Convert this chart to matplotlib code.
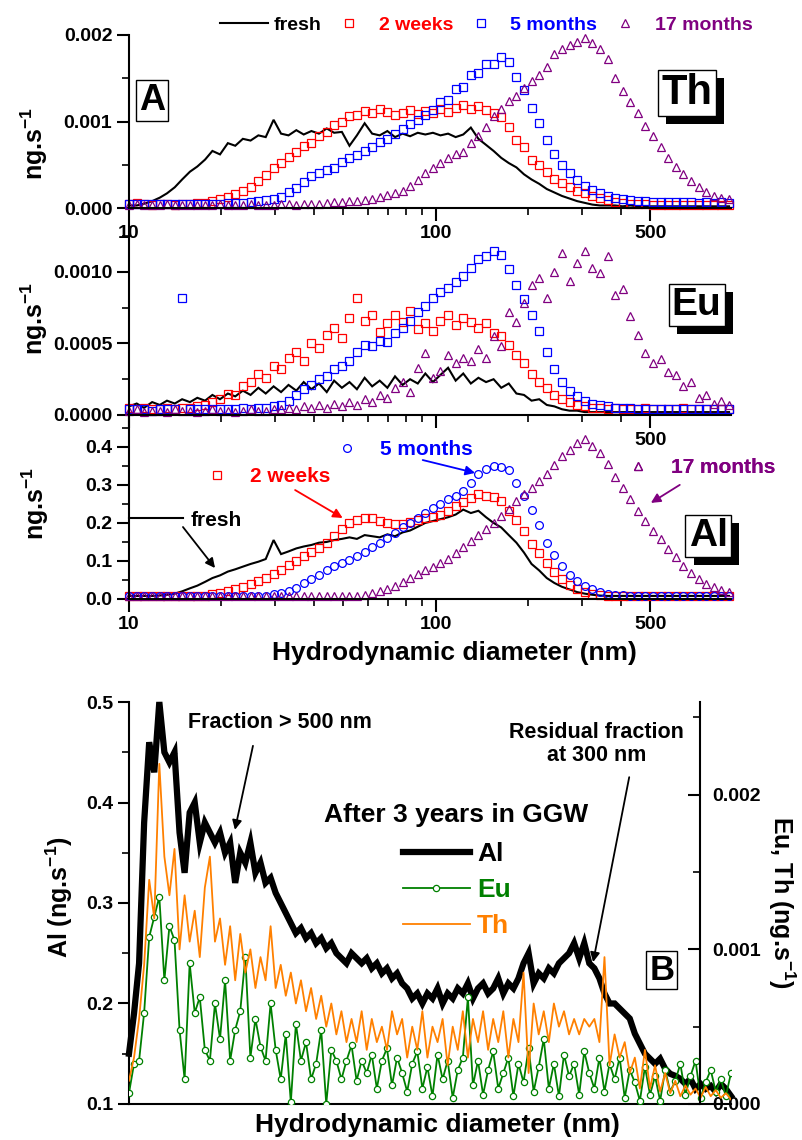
import matplotlib
matplotlib.use('Agg')
import matplotlib.pyplot as plt
from matplotlib import patheffects
from matplotlib.ticker import FixedLocator, MultipleLocator, FormatStrFormatter, FixedFormatter, NullFormatter
import numpy as np

plt.rcParams['font.family'] = ['Liberation Sans', 'DejaVu Sans']
plt.rcParams['font.weight'] = 'bold'
plt.rcParams['axes.labelweight'] = 'bold'
plt.rcParams['mathtext.fontset'] = 'custom'
plt.rcParams['mathtext.rm'] = 'Liberation Sans'
plt.rcParams['mathtext.bf'] = 'Liberation Sans:bold'
plt.rcParams['axes.linewidth'] = 1.5

# hydrodynamic diameter of each fraction (nm)
diam = [10.0, 10.6, 11.2, 11.9, 12.6, 13.3, 14.1, 14.9, 15.8, 16.7,
        17.7, 18.7, 19.8, 21.0, 22.2, 23.5, 24.9, 26.4, 27.9, 29.6,
        31.3, 33.1, 35.1, 37.1, 39.3, 41.6, 44.1, 46.6, 49.4, 52.3,
        55.3, 58.6, 62.0, 65.6, 69.5, 73.6, 77.9, 82.4, 87.3, 92.4,
        97.8, 103.5, 109.6, 116.0, 122.8, 130.0, 137.6, 145.7, 154.2, 163.3,
        172.8, 183.0, 193.7, 205.0, 217.1, 229.8, 243.3, 257.5, 272.6, 288.6,
        305.5, 323.4, 342.4, 362.5, 383.7, 406.2, 430.0, 455.2, 481.9, 510.2,
        540.1, 571.8, 605.3, 640.8, 678.3, 718.1, 760.2, 804.8, 851.9, 901.9]

ages = ['fresh', '2 weeks', '5 months', '17 months']

# Th signal, 1e-4 ng/s
th_fresh = [0.3, 0.3, 0.5, 0.8, 1.2, 1.7, 2.4, 3.3, 4.2, 4.8,
            5.6, 6.6, 6.2, 7.5, 7.2, 8.0, 7.8, 8.4, 8.2, 10.2,
            8.6, 8.4, 9.0, 8.5, 8.9, 8.6, 9.2, 8.7, 8.8, 7.2,
            8.4, 9.8, 8.6, 8.4, 8.9, 8.2, 8.6, 8.3, 8.7, 8.5,
            8.7, 8.4, 8.6, 8.2, 8.5, 9.3, 8.0, 7.3, 6.6, 5.8,
            5.2, 4.7, 3.9, 3.3, 2.8, 2.2, 1.8, 1.4, 1.1, 0.8,
            0.6, 0.4, 0.3, 0.3, 0.3, 0.2, 0.3, 0.2, 0.2, 0.2,
            0.2, 0.2, 0.2, 0.2, 0.2, 0.2, 0.2, 0.2, 0.2, 0.2]
th_2w = [0.5, 0.6, 0.5, 0.4, 0.5, 0.5, 0.4, 0.5, 0.5, 0.6,
         0.6, 0.8, 1.0, 1.3, 1.6, 2.0, 2.4, 3.1, 3.8, 4.6,
         5.2, 5.9, 6.5, 7.2, 7.5, 8.3, 8.8, 9.6, 10.0, 10.6,
         10.8, 11.2, 11.0, 11.4, 11.1, 10.7, 11.0, 11.3, 10.9, 11.2,
         11.0, 11.4, 11.1, 11.6, 11.9, 11.5, 11.8, 11.3, 11.0, 10.5,
         9.4, 7.9, 7.0, 5.6, 5.0, 4.2, 3.3, 2.9, 2.4, 2.0,
         1.7, 1.4, 1.2, 0.9, 0.7, 0.6, 0.5, 0.5, 0.5, 0.4,
         0.4, 0.4, 0.4, 0.4, 0.4, 0.4, 0.3, 0.4, 0.3, 0.3]
th_5m = [0.5, 0.5, 0.5, 0.5, 0.5, 0.5, 0.5, 0.5, 0.5, 0.5,
         0.5, 0.5, 0.5, 0.6, 0.6, 0.6, 0.7, 0.8, 0.9, 1.1,
         1.3, 1.8, 2.3, 3.0, 3.7, 4.1, 4.4, 4.6, 5.3, 5.8,
         6.1, 6.6, 7.0, 7.6, 8.0, 8.6, 9.1, 9.7, 10.2, 10.8,
         11.3, 12.2, 12.5, 13.8, 14.0, 15.4, 15.6, 16.6, 16.7, 17.4,
         16.9, 15.2, 13.6, 11.6, 9.8, 7.9, 6.3, 5.0, 4.0, 3.2,
         2.6, 2.1, 1.7, 1.4, 1.2, 1.0, 0.9, 0.8, 0.8, 0.7,
         0.7, 0.7, 0.7, 0.7, 0.7, 0.6, 0.7, 0.6, 0.7, 0.6]
th_17m = [0.4, 0.5, 0.4, 0.4, 0.4, 0.5, 0.4, 0.4, 0.4, 0.4,
          0.4, 0.4, 0.5, 0.4, 0.4, 0.4, 0.5, 0.4, 0.4, 0.4,
          0.5, 0.5, 0.4, 0.5, 0.5, 0.5, 0.6, 0.7, 0.7, 0.8,
          0.8, 0.9, 1.1, 1.3, 1.5, 1.7, 2.0, 2.6, 3.2, 4.0,
          4.6, 5.2, 5.8, 6.2, 6.5, 7.5, 8.3, 9.4, 10.6, 11.4,
          12.4, 12.9, 13.9, 14.7, 15.4, 16.3, 17.8, 18.4, 18.8, 19.2,
          19.6, 19.1, 18.4, 17.2, 15.0, 13.5, 12.3, 11.0, 9.5, 8.3,
          7.0, 5.8, 4.7, 3.9, 3.1, 2.4, 1.8, 1.4, 1.2, 1.0]

# Eu signal, 1e-4 ng/s
eu_fresh = [0.6, 0.8, 0.5, 0.9, 0.7, 1.0, 0.8, 1.1, 0.9, 1.2,
            1.0, 1.4, 1.1, 1.5, 1.3, 1.7, 1.4, 1.9, 1.5, 2.0,
            1.6, 2.1, 1.7, 2.3, 1.8, 2.2, 1.6, 2.4, 1.9, 2.3,
            1.8, 2.6, 2.0, 2.4, 1.9, 2.7, 2.1, 2.5, 2.2, 2.9,
            2.3, 2.8, 3.3, 2.4, 2.9, 2.2, 2.6, 2.3, 2.5, 1.9,
            2.2, 1.5, 1.4, 1.0, 1.1, 0.7, 0.6, 0.4, 0.3, 0.3,
            0.2, 0.2, 0.2, 0.2, 0.2, 0.2, 0.2, 0.2, 0.2, 0.2,
            0.2, 0.2, 0.2, 0.2, 0.2, 0.2, 0.2, 0.2, 0.2, 0.2]
eu_2w = [0.5, 0.4, 0.5, 0.4, 0.4, 0.5, 0.4, 0.5, 0.5, 0.6,
         0.7, 0.9, 1.1, 1.5, 1.4, 2.0, 2.3, 2.9, 2.6, 3.4,
         3.2, 4.0, 4.4, 3.8, 5.0, 4.7, 5.6, 6.1, 5.4, 6.8,
         8.2, 6.6, 7.0, 5.8, 6.4, 7.0, 6.5, 7.3, 6.0, 6.4,
         5.9, 6.6, 7.0, 6.3, 6.8, 6.5, 6.1, 6.4, 5.7, 5.5,
         4.9, 4.2, 3.6, 2.9, 2.3, 1.9, 1.4, 1.1, 0.9, 0.7,
         0.6, 0.5, 0.5, 0.4, 0.5, 0.4, 0.4, 0.4, 0.5, 0.4,
         0.4, 0.4, 0.4, 0.5, 0.4, 0.4, 0.4, 0.4, 0.4, 0.4]
eu_5m = [0.4, 0.4, 0.4, 0.3, 0.4, 0.4, 0.4, 8.2, 0.4, 0.4,
         0.4, 0.4, 0.4, 0.4, 0.4, 0.5, 0.4, 0.5, 0.5, 0.6,
         0.7, 1.0, 1.4, 1.8, 2.1, 2.5, 2.7, 3.2, 3.4, 3.8,
         4.4, 4.9, 4.8, 5.2, 5.1, 5.7, 6.1, 6.6, 7.2, 7.6,
         8.2, 8.6, 8.9, 9.3, 9.7, 10.3, 10.9, 11.1, 11.5, 11.2,
         10.2, 9.1, 8.1, 7.0, 5.9, 4.4, 3.2, 2.3, 1.7, 1.3,
         1.0, 0.8, 0.7, 0.6, 0.5, 0.5, 0.5, 0.4, 0.4, 0.4,
         0.4, 0.4, 0.4, 0.4, 0.4, 0.4, 0.4, 0.4, 0.4, 0.4]
eu_17m = [0.3, 0.4, 0.2, 0.3, 0.3, 0.2, 0.4, 0.3, 0.3, 0.2,
          0.3, 0.4, 0.3, 0.3, 0.2, 0.3, 0.4, 0.3, 0.3, 0.4,
          0.4, 0.5, 0.4, 0.6, 0.5, 0.7, 0.5, 0.8, 0.6, 0.9,
          0.7, 1.1, 0.9, 1.4, 1.2, 1.9, 2.3, 1.6, 3.3, 4.3,
          2.6, 3.1, 4.2, 3.6, 4.0, 3.8, 4.6, 4.0, 5.5, 4.8,
          7.2, 6.5, 7.8, 9.1, 9.6, 8.2, 10.0, 11.3, 9.4, 10.6,
          11.5, 10.3, 9.9, 11.1, 8.4, 8.8, 6.9, 5.6, 4.3, 3.6,
          3.9, 3.0, 2.8, 2.0, 2.3, 1.2, 1.4, 0.8, 1.0, 0.7]

# Al signal, ng/s
al_fresh = [0.008, 0.008, 0.008, 0.008, 0.009, 0.011, 0.014, 0.020, 0.028, 0.035,
            0.045, 0.055, 0.062, 0.072, 0.078, 0.085, 0.092, 0.098, 0.105, 0.155,
            0.118, 0.125, 0.133, 0.138, 0.142, 0.148, 0.150, 0.155, 0.158, 0.162,
            0.158, 0.168, 0.165, 0.162, 0.170, 0.165, 0.175, 0.180, 0.190, 0.200,
            0.205, 0.210, 0.215, 0.222, 0.235, 0.226, 0.232, 0.215, 0.200, 0.188,
            0.168, 0.148, 0.122, 0.092, 0.075, 0.055, 0.042, 0.032, 0.025, 0.018,
            0.014, 0.011, 0.009, 0.008, 0.008, 0.008, 0.008, 0.008, 0.008, 0.008,
            0.008, 0.008, 0.008, 0.008, 0.008, 0.008, 0.008, 0.008, 0.008, 0.008]
al_2w = [0.008, 0.008, 0.008, 0.008, 0.008, 0.008, 0.008, 0.008, 0.008, 0.008,
         0.008, 0.012, 0.016, 0.021, 0.026, 0.032, 0.040, 0.048, 0.056, 0.066,
         0.077, 0.090, 0.100, 0.112, 0.124, 0.134, 0.148, 0.165, 0.185, 0.200,
         0.208, 0.212, 0.212, 0.206, 0.200, 0.196, 0.198, 0.203, 0.207, 0.212,
         0.216, 0.222, 0.232, 0.244, 0.256, 0.266, 0.275, 0.272, 0.268, 0.258,
         0.232, 0.208, 0.180, 0.145, 0.120, 0.095, 0.070, 0.052, 0.036, 0.026,
         0.019, 0.014, 0.011, 0.009, 0.009, 0.008, 0.008, 0.008, 0.008, 0.008,
         0.008, 0.008, 0.008, 0.008, 0.008, 0.008, 0.008, 0.008, 0.008, 0.008]
al_5m = [0.008, 0.008, 0.008, 0.008, 0.008, 0.008, 0.008, 0.008, 0.008, 0.008,
         0.008, 0.008, 0.008, 0.008, 0.008, 0.008, 0.008, 0.008, 0.009, 0.012,
         0.016, 0.022, 0.030, 0.042, 0.053, 0.063, 0.075, 0.086, 0.094, 0.102,
         0.112, 0.124, 0.136, 0.148, 0.160, 0.174, 0.188, 0.200, 0.212, 0.226,
         0.238, 0.250, 0.262, 0.272, 0.285, 0.304, 0.328, 0.342, 0.350, 0.348,
         0.338, 0.305, 0.272, 0.235, 0.195, 0.148, 0.115, 0.088, 0.064, 0.046,
         0.035, 0.025, 0.018, 0.014, 0.011, 0.010, 0.009, 0.009, 0.008, 0.008,
         0.008, 0.008, 0.008, 0.008, 0.008, 0.008, 0.008, 0.008, 0.008, 0.008]
al_17m = [0.008, 0.008, 0.008, 0.008, 0.008, 0.008, 0.008, 0.008, 0.008, 0.008,
          0.008, 0.008, 0.008, 0.008, 0.008, 0.008, 0.008, 0.008, 0.008, 0.008,
          0.008, 0.008, 0.008, 0.008, 0.008, 0.008, 0.008, 0.008, 0.008, 0.008,
          0.009, 0.011, 0.015, 0.020, 0.027, 0.035, 0.045, 0.055, 0.065, 0.075,
          0.084, 0.095, 0.106, 0.120, 0.136, 0.152, 0.168, 0.183, 0.200, 0.218,
          0.236, 0.258, 0.276, 0.292, 0.310, 0.330, 0.352, 0.376, 0.393, 0.410,
          0.420, 0.402, 0.384, 0.356, 0.320, 0.293, 0.262, 0.232, 0.205, 0.180,
          0.157, 0.132, 0.110, 0.088, 0.068, 0.052, 0.040, 0.032, 0.024, 0.018]

# after 3 years in GGW: Al in ng/s, Eu and Th in 1e-4 ng/s, per fraction
b_al = [0.15, 0.19, 0.24, 0.38, 0.46, 0.43, 0.50, 0.45, 0.44, 0.45,
        0.37, 0.33, 0.39, 0.40, 0.36, 0.38, 0.37, 0.36, 0.37, 0.35,
        0.36, 0.32, 0.35, 0.34, 0.36, 0.33, 0.34, 0.32, 0.325, 0.31,
        0.30, 0.29, 0.28, 0.27, 0.275, 0.265, 0.27, 0.26, 0.265, 0.255,
        0.26, 0.25, 0.245, 0.24, 0.25, 0.245, 0.24, 0.245, 0.235, 0.24,
        0.23, 0.235, 0.225, 0.23, 0.22, 0.215, 0.205, 0.21, 0.20, 0.21,
        0.205, 0.215, 0.20, 0.21, 0.205, 0.215, 0.21, 0.22, 0.205, 0.215,
        0.22, 0.21, 0.215, 0.225, 0.21, 0.22, 0.215, 0.225, 0.24, 0.25,
        0.22, 0.23, 0.225, 0.235, 0.23, 0.24, 0.245, 0.25, 0.26, 0.245,
        0.26, 0.24, 0.235, 0.225, 0.21, 0.20, 0.20, 0.195, 0.19, 0.185,
        0.17, 0.16, 0.15, 0.145, 0.14, 0.145, 0.135, 0.13, 0.128, 0.125,
        0.12, 0.125, 0.115, 0.12, 0.115, 0.118, 0.112, 0.12, 0.115, 0.108]
b_th = [1.5, 3.0, 5.5, 9.0, 14.5, 12.0, 22.0, 16.0, 13.5, 16.5,
        10.0, 13.5, 10.5, 12.5, 9.5, 14.0, 16.0, 10.5, 12.0, 9.0,
        11.5, 8.0, 11.0, 8.5, 10.0, 7.5, 9.5, 8.0, 11.5, 7.5,
        9.0, 7.0, 8.5, 6.5, 8.0, 6.0, 7.5, 5.5, 7.0, 5.0,
        6.5, 4.5, 6.0, 4.0, 5.5, 4.0, 6.0, 3.5, 5.5, 4.0,
        5.0, 3.5, 6.0, 4.5, 5.5, 3.0, 5.0, 3.5, 6.0, 3.0,
        5.0, 4.0, 5.5, 2.5, 5.0, 3.5, 6.0, 3.0, 5.5, 4.0,
        6.0, 3.5, 5.5, 4.0, 6.0, 3.0, 5.5, 4.0, 8.5, 2.0,
        6.5, 4.5, 6.0, 4.0, 6.5, 5.0, 6.0, 4.5, 5.5, 4.5,
        5.5, 5.0, 5.5, 4.0, 9.5, 2.5, 4.5, 3.0, 4.0, 2.0,
        3.0, 1.0, 3.5, 1.0, 2.5, 0.8, 2.0, 0.7, 1.5, 0.5,
        1.2, 0.6, 1.0, 0.4, 1.1, 0.5, 0.9, 0.4, 0.7, 0.3]
b_eu = [0.7, 2.6, 2.8, 5.9, 10.8, 12.1, 13.4, 8.0, 11.5, 10.6,
        4.8, 1.6, 9.1, 5.9, 6.9, 3.5, 2.8, 6.5, 4.2, 8.0,
        2.8, 4.8, 6.0, 9.5, 3.0, 5.5, 3.7, 2.8, 6.5, 3.5,
        1.6, 4.5, 0.1, 5.2, 2.8, 4.0, 1.6, 2.6, 4.8, 0.0,
        3.5, 2.8, 1.6, 2.8, 3.8, 1.5, 2.8, 2.0, 3.2, 1.0,
        2.8, 3.6, 1.2, 3.0, 2.0, 0.8, 2.6, 3.4, 1.0, 2.4,
        0.5, 3.2, 1.6, 2.8, 0.4, 2.2, 3.0, 6.9, 1.2, 2.8,
        0.6, 2.2, 3.4, 1.0, 2.0, 3.0, 0.5, 2.6, 1.4, 3.6,
        0.8, 2.4, 4.2, 1.0, 2.6, 0.5, 3.2, 1.8, 2.6, 0.6,
        3.4, 2.0, 1.0, 3.0, 0.8, 2.6, 1.6, 3.0, 0.4, 2.2,
        1.4, 0.2, 2.4, 0.6, 1.8, 0.2, 2.2, 0.8, 1.5, 2.6,
        0.6, 1.8, 2.8, 0.4, 1.4, 2.2, 0.8, 1.6, 0.5, 2.0]

colors = ['black', 'red', 'blue', 'purple']
markers = [None, 's', 's', '^']
ORANGE = '#FF8000'
GREEN = '#008000'


def draw_series(ax, series, scale, al_markers=False):
    lines = []
    for k, vals in enumerate(series):
        y = np.array(vals) * scale
        if k == 0:
            ln, = ax.plot(diam, y, color='black', lw=1.5, solid_joinstyle='miter')
        else:
            m = markers[k]
            if al_markers and k == 2:
                m = 'o'
            ln, = ax.plot(diam, y, ls='none', marker=m, ms=5.6, mfc='none',
                          mec=colors[k], mew=0.9, clip_on=False)
        lines.append(ln)
    return lines


def style_panel(ax, ylim, ymajor, yminor, yfmt, xlabels):
    ax.set_facecolor('none')
    ax.set_xscale('log')
    ax.set_xlim(10, 915)
    ax.set_ylim(*ylim)
    for s in ['top', 'right']:
        ax.spines[s].set_visible(False)
    ax.xaxis.set_major_locator(FixedLocator([10, 100, 500]))
    ax.xaxis.set_major_formatter(FixedFormatter(xlabels))
    ax.xaxis.set_minor_locator(FixedLocator([20, 30, 40, 50, 60, 70, 80, 90, 200, 300, 400]))
    ax.xaxis.set_minor_formatter(NullFormatter())
    ax.yaxis.set_major_locator(MultipleLocator(ymajor))
    ax.yaxis.set_minor_locator(MultipleLocator(yminor))
    ax.yaxis.set_major_formatter(FormatStrFormatter(yfmt))
    ax.tick_params(which='major', length=9, width=1.5, direction='out', labelsize=14)
    ax.tick_params(which='minor', length=5, width=1.2, direction='out')
    ax.tick_params(axis='x', pad=3)
    ax.tick_params(axis='y', pad=3)


def boxed(ax, x, y, s, size, shadow=True):
    t = ax.text(x, y, s, transform=ax.transAxes, ha='center', va='center',
                fontsize=size, zorder=6,
                bbox=dict(boxstyle='square,pad=0.08', fc='white', ec='black', lw=1))
    if shadow:
        # solid black drop shadow below and to the right of the frame
        t.get_bbox_patch().set_path_effects([
            patheffects.SimplePatchShadow(offset=(5.8, -5.8), shadow_rgbFace='black', alpha=1.0),
            patheffects.Normal()])
    return t


def arrow(ax, tail, tip, color):
    ax.annotate('', xy=tip, xytext=tail, xycoords='axes fraction',
                arrowprops=dict(arrowstyle='-|>', color=color, lw=1.3,
                                mutation_scale=14, shrinkA=0, shrinkB=0))


fig = plt.figure(figsize=(8.02, 11.4), dpi=100)

ax_th = fig.add_axes([0.1608, 0.8175, 0.7506, 0.1518])
ax_eu = fig.add_axes([0.1608, 0.6360, 0.7506, 0.1693])
ax_al = fig.add_axes([0.1608, 0.4746, 0.7506, 0.1614])

# Th panel
th_lines = draw_series(ax_th, [th_fresh, th_2w, th_5m, th_17m], 1e-4)
style_panel(ax_th, (0, 0.002), 0.001, 0.0005, '%.3f', ['10', '100', '500'])
ax_th.set_ylabel('ng.s$^{-1}$', fontsize=18, va='center')
ax_th.yaxis.set_label_coords(-0.158, 0.376)
ax_th.legend(th_lines, ages, ncol=4, loc='center left', bbox_to_anchor=(0.151, 1.058),
             frameon=False, fontsize=14, handlelength=2.47, handletextpad=0.28,
             columnspacing=0.2, borderpad=0, borderaxespad=0, labelcolor=colors)
boxed(ax_th, 0.038, 0.62, 'A', 26, shadow=False)
boxed(ax_th, 0.927, 0.665, 'Th', 30)

# Eu panel
draw_series(ax_eu, [eu_fresh, eu_2w, eu_5m, eu_17m], 1e-4)
style_panel(ax_eu, (0, 0.00135), 0.0005, 0.00025, '%.4f', ['', '', '500'])
ax_eu.set_ylabel('ng.s$^{-1}$', fontsize=18, va='center')
ax_eu.yaxis.set_label_coords(-0.158, 0.5)
boxed(ax_eu, 0.943, 0.57, 'Eu', 28)

# Al panel
al_lines = draw_series(ax_al, [al_fresh, al_2w, al_5m, al_17m], 1.0, al_markers=True)
style_panel(ax_al, (0, 0.484), 0.1, 0.05, '%.1f', ['10', '100', '500'])
ax_al.set_ylabel('ng.s$^{-1}$', fontsize=18, va='center')
ax_al.yaxis.set_label_coords(-0.155, 0.52)
ax_al.set_xlabel('Hydrodynamic diameter (nm)', fontsize=19, va='center')
ax_al.xaxis.set_label_coords(0.5415, -0.293)
boxed(ax_al, 0.962, 0.342, 'Al', 28)

# Al legend entries spread over the panel, each with an arrow to its curve
spots = [(0.0, 0.429, 2.6, 0.34), (0.111, 0.663, 2.0, 0.58),
         (0.327, 0.81, 2.0, 0.58), (0.811, 0.712, 2.0, 0.58)]
for k, (lx, ly, hl, tp) in enumerate(spots):
    leg = ax_al.legend([al_lines[k]], [ages[k]], loc='center left', bbox_to_anchor=(lx, ly),
                       frameon=False, fontsize=15, handlelength=hl, handletextpad=tp,
                       borderpad=0, borderaxespad=0, labelcolor=colors[k])
    ax_al.add_artist(leg)
arrow(ax_al, (0.0897, 0.391), (0.143, 0.168), 'black')
arrow(ax_al, (0.276, 0.592), (0.355, 0.44), 'red')
arrow(ax_al, (0.488, 0.755), (0.575, 0.685), 'blue')
arrow(ax_al, (0.915, 0.62), (0.867, 0.522), 'purple')

# B: 3-year-old sample, Al on the left axis, Eu and Th on the right one
frac = np.arange(len(b_al))
ax_b = fig.add_axes([0.1608, 0.0316, 0.7506, 0.3526])
ax_b.set_facecolor('none')
ln_al, = ax_b.plot(frac, b_al, color='black', lw=4.5, solid_joinstyle='miter', clip_on=False)
ax_b.set_xlim(0, len(b_al) - 1)
ax_b.set_ylim(0.1, 0.5)
for s in ['top', 'right']:
    ax_b.spines[s].set_visible(False)
ax_b.tick_params(axis='x', bottom=False, labelbottom=False)
ax_b.yaxis.set_major_locator(MultipleLocator(0.1))
ax_b.yaxis.set_minor_locator(MultipleLocator(0.05))
ax_b.yaxis.set_major_formatter(FormatStrFormatter('%.1f'))
ax_b.tick_params(axis='y', which='major', length=8, width=1.5, labelsize=14, pad=3)
ax_b.tick_params(axis='y', which='minor', length=5, width=1.2)
ax_b.set_ylabel('Al (ng.s$^{-1}$)', fontsize=18, va='center')
ax_b.yaxis.set_label_coords(-0.115, 0.515)
ax_b.set_xlabel('Hydrodynamic diameter (nm)', fontsize=19, va='center')
ax_b.xaxis.set_label_coords(0.513, -0.052)

ax_b2 = ax_b.twinx()
ax_b2.set_facecolor('none')
ln_eu, = ax_b2.plot(frac, np.array(b_eu) * 1e-4, color=GREEN, lw=1.3, marker='o', ms=4.5,
                    mfc='white', mec=GREEN, mew=0.9)
ln_th, = ax_b2.plot(frac, np.array(b_th) * 1e-4, color=ORANGE, lw=1.3)
ax_b2.set_ylim(0, 0.0026)
for s in ['top', 'left', 'bottom']:
    ax_b2.spines[s].set_visible(False)
ax_b2.spines['right'].set_position(('axes', 0.9485))
ax_b2.yaxis.set_major_locator(MultipleLocator(0.001))
ax_b2.yaxis.set_minor_locator(MultipleLocator(0.0005))
ax_b2.yaxis.set_major_formatter(FormatStrFormatter('%.3f'))
ax_b2.tick_params(axis='y', which='major', direction='in', length=9, width=1.5, labelsize=14, pad=9)
ax_b2.tick_params(axis='y', which='minor', direction='in', length=5, width=1.2)
ax_b2.set_ylabel('Eu, Th (ng.s$^{-1}$)', fontsize=18, rotation=270, va='center')
ax_b2.yaxis.set_label_coords(1.085, 0.502)

ax_b2.legend([ln_al, ln_eu, ln_th], ['Al', 'Eu', 'Th'], loc='center left',
             bbox_to_anchor=(0.455, 0.532), frameon=False, fontsize=19,
             handlelength=2.54, handletextpad=0.27, labelspacing=0.45,
             borderpad=0, borderaxespad=0, labelcolor=['black', GREEN, ORANGE])
ax_b2.text(0.543, 0.719, 'After 3 years in GGW', transform=ax_b2.transAxes,
           ha='center', va='center', fontsize=19)
ax_b2.text(0.251, 0.950, 'Fraction > 500 nm', transform=ax_b2.transAxes,
           ha='center', va='center', fontsize=15.5)
ax_b2.text(0.777, 0.896, 'Residual fraction\nat 300 nm', transform=ax_b2.transAxes,
           ha='center', va='center', fontsize=15.5, linespacing=1.15)
arrow(ax_b2, (0.206, 0.891), (0.176, 0.682), 'black')
arrow(ax_b2, (0.831, 0.813), (0.771, 0.353), 'black')
boxed(ax_b2, 0.885, 0.333, 'B', 25, shadow=False)

fig.savefig('out.png', dpi=100)
